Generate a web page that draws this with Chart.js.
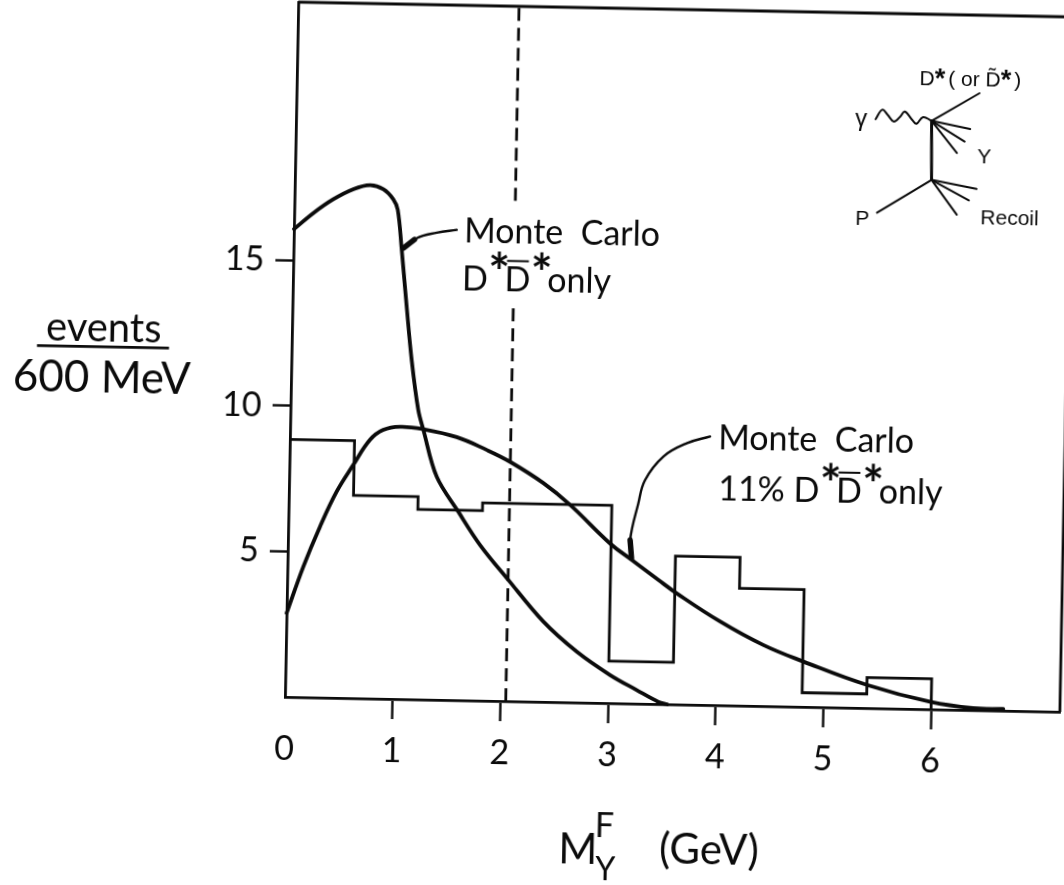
<!DOCTYPE html>
<html>
<head>
<meta charset="utf-8">
<title>Events vs M_Y^F</title>
<script src="https://cdn.jsdelivr.net/npm/chart.js@4"></script>
<style>
html,body{margin:0;background:#fff;overflow:hidden}
/* the scanned figure sits about one degree off square */
#plot{transform:rotate(1.1deg);transform-origin:285px 697px}
</style>
</head>
<body>
<canvas id="plot" width="1064" height="885"></canvas>
<script>
// tick labels
const xTicks = [0,1,2,3,4,5,6];
const yTicks = [5,10,15];

// histogram, 600 MeV bins (last edge closes the final bin)
const binEdges = [0,0.6,1.2,1.8,2.4,3.0,3.6,4.2,4.8,5.4,6.0];
const binCounts = [8.85,6.97,6.53,6.8,6.8,1.45,5.1,4.03,0.49,1.05,0];

// Monte Carlo D*D*bar only
const pureX = [0,0.176,0.36,0.544,0.698,0.822,0.917,0.96,1.004,1.06,1.116,1.186,1.237,1.369,1.576,1.784,2.052,2.385,2.70,3.014,3.264,3.467,3.55];
const pureY = [16.08,16.64,17.13,17.49,17.64,17.51,17.17,16.81,15.44,13.49,11.66,9.95,9.27,7.67,6.48,5.35,4.17,2.76,1.75,0.97,0.47,0.08,0];

// Monte Carlo 11% D*D*bar
const mixX = [0,0.147,0.294,0.443,0.593,0.743,0.865,1.02,1.237,1.548,1.829,2.047,2.36,2.612,2.99,3.194,3.445,3.618,4.026,4.432,4.806,5.40,5.99,6.39,6.67];
const mixY = [2.88,4.49,5.87,7.09,8.02,8.89,9.24,9.36,9.29,9.04,8.62,8.23,7.52,6.79,5.49,4.94,4.27,3.82,2.88,2.10,1.56,0.80,0.26,0.07,0.06];

// dashed cut, broken where the label sits
const cutX = [2.05,2.05,2.05,2.05,2.05];
const cutY = [0,13.6,null,17.2,23.9];

// leader lines to the labels
const leadAX = [1.004,1.141,1.326,1.511];
const leadAY = [15.41,15.85,16.05,16.16];
const headAX = [1.02,1.12];
const headAY = [15.5,15.8];
const leadBX = [3.90,3.684,3.47,3.304,3.246,3.176,3.194];
const leadBY = [9.23,8.98,8.51,7.69,6.89,5.62,4.94];
const headBX = [3.176,3.192];
const headBY = [5.62,5.0];

// inset diagram
const propX = [5.90,5.91];
const propY = [20.22,18.19];
const dstarX = [5.90,6.34];
const dstarY = [20.22,21.20];
const ray1X = [5.90,6.26], ray1Y = [20.22,19.96];
const ray2X = [5.90,6.21], ray2Y = [20.22,19.53];
const ray3X = [5.90,6.14], ray3Y = [20.22,19.13];
const protonX = [5.41,5.91], protonY = [17.03,18.19];
const ray4X = [5.91,6.33], ray4Y = [18.19,17.91];
const ray5X = [5.91,6.26], ray5Y = [18.19,17.51];
const ray6X = [5.91,6.15], ray6Y = [18.19,17.01];
const photonX = [5.38,5.44,5.49,5.55,5.61,5.65,5.72,5.76,5.82,5.90];
const photonY = [20.24,20.57,20.40,20.17,20.35,20.52,20.24,20.11,20.34,20.22];

const INK = '#0b0b0b';
const BIG = 'Lato';
const SMALL = '"Liberation Sans"';

function zip(xs,ys){ return xs.map((x,i)=>({x:x,y:ys[i]})); }
function line(xs,ys,width,extra){
    return Object.assign({data:zip(xs,ys),borderColor:INK,borderWidth:width,pointRadius:0,
        fill:false,clip:false,borderCapStyle:'round',borderJoinStyle:'round'},extra||{});
}
function noPadding(s){ s.paddingTop = s.paddingBottom = s.paddingLeft = s.paddingRight = 0; }

// bits of lettering: position in data units, then runs written left to right
const star = {t:'*',bold:true,scale:1.5,rise:0,kern:-5};
const starSmall = {t:'*',bold:true,scale:1.3,rise:-0.1,kern:3};
const labels = [
    {x:1.58,y:15.72,size:34,runs:[{t:'Monte  Carlo'}]},
    {x:1.57,y:14.10,size:34,runs:[{t:'D'},star,{t:'D',bar:true},star,{t:'only'}]},
    {x:3.976,y:8.81,size:34,runs:[{t:'Monte  Carlo'}]},
    {x:3.985,y:7.05,size:34,runs:[{t:'11% D'},star,{t:'D',bar:true},star,{t:'only'}]},
    {x:-1.748,y:12.08,size:40,align:'center',runs:[{t:'events'}]},
    {x:-1.758,y:10.33,size:44,align:'center',runs:[{t:'600 MeV'}]},
    {x:2.565,y:-5.53,size:42,runs:[{t:'M'}]},
    {x:2.90,y:-4.60,size:34,runs:[{t:'F'}]},
    {x:2.91,y:-6.08,size:32,runs:[{t:'Y'}]},
    {x:3.50,y:-5.46,size:42,runs:[{t:'(GeV)'}]},
    {x:5.78,y:21.45,size:21,family:SMALL,runs:[{t:'D'},starSmall,{t:'( or D\u0303'},starSmall,{t:')'}]},
    {x:5.19,y:20.0,size:24,family:SMALL,runs:[{t:'\u03b3'}]},
    {x:6.33,y:18.81,size:21,family:SMALL,runs:[{t:'Y'}]},
    {x:5.21,y:16.60,size:21,family:SMALL,runs:[{t:'P'}]},
    {x:6.37,y:16.71,size:21,family:SMALL,runs:[{t:'Recoil'}]}
];

const lettering = {
    id:'lettering',
    afterDraw(chart){
        const c = chart.ctx, xs = chart.scales.x, ys = chart.scales.y, a = chart.chartArea;
        c.save();
        c.strokeStyle = INK;
        c.lineWidth = 2.8;
        // top and right sides of the frame
        c.beginPath();
        c.moveTo(a.left,a.top); c.lineTo(a.right,a.top); c.lineTo(a.right,a.bottom);
        c.stroke();
        // fraction bar of the y title
        c.beginPath();
        c.moveTo(xs.getPixelForValue(-2.365),ys.getPixelForValue(11.91));
        c.lineTo(xs.getPixelForValue(-1.139),ys.getPixelForValue(11.91));
        c.stroke();

        c.fillStyle = INK;
        c.textBaseline = 'alphabetic';
        labels.forEach(l=>{
            const fam = l.family || BIG;
            const fontOf = r => (r.bold?'bold ':'')+Math.round(l.size*(r.scale||1))+'px '+fam;
            let px = xs.getPixelForValue(l.x);
            const py = ys.getPixelForValue(l.y);
            if(l.align==='center'){
                let w = 0;
                l.runs.forEach(r=>{ c.font = fontOf(r); w += c.measureText(r.t).width; });
                px -= w/2;
            }
            l.runs.forEach(r=>{
                c.font = fontOf(r);
                const w = c.measureText(r.t).width;
                c.fillText(r.t,px,py-(r.rise||0)*l.size);
                if(r.bar){
                    c.lineWidth = 2;
                    c.beginPath();
                    c.moveTo(px+2,py-l.size*0.88);
                    c.lineTo(px+w-2,py-l.size*0.88);
                    c.stroke();
                }
                px += w+(r.kern||0);
            });
        });
        c.restore();
    }
};

new Chart(document.getElementById('plot'),{
    type:'line',
    data:{
        datasets:[
            line(binEdges,binCounts,2.8,{stepped:'before',borderCapStyle:'butt',borderJoinStyle:'miter'}),
            line(pureX,pureY,3.8,{tension:0.35}),
            line(mixX,mixY,3.8,{tension:0.4}),
            line(cutX,cutY,2.8,{borderDash:[13,7],borderCapStyle:'butt'}),
            line(leadAX,leadAY,2.4,{tension:0.4}),
            line(headAX,headAY,5.5),
            line(leadBX,leadBY,2.4,{tension:0.4}),
            line(headBX,headBY,5.5),
            line(propX,propY,3),
            line(dstarX,dstarY,2),
            line(ray1X,ray1Y,2),
            line(ray2X,ray2Y,2),
            line(ray3X,ray3Y,2),
            line(protonX,protonY,2),
            line(ray4X,ray4Y,2),
            line(ray5X,ray5Y,2),
            line(ray6X,ray6Y,2),
            line(photonX,photonY,2,{tension:0.4})
        ]
    },
    options:{
        responsive:false,
        animation:false,
        events:[],
        layout:{padding:{top:2,right:4,left:0,bottom:0}},
        plugins:{legend:{display:false},tooltip:{enabled:false},title:{display:false}},
        scales:{
            x:{
                type:'linear',min:0,max:7.196,
                afterFit(s){ s.height = 188; noPadding(s); },
                afterBuildTicks(s){ s.ticks = xTicks.map(v=>({value:v})); },
                border:{color:INK,width:2.8},
                grid:{drawOnChartArea:false,tickLength:20,tickWidth:2.4,
                    tickColor:ctx=>ctx.tick && ctx.tick.value===0 ? 'rgba(0,0,0,0)' : INK},
                ticks:{color:INK,font:{family:BIG,size:34},padding:12,maxRotation:0,autoSkip:false}
            },
            y:{
                type:'linear',min:0,max:23.88,
                afterFit(s){ s.width = 285; noPadding(s); },
                afterBuildTicks(s){ s.ticks = yTicks.map(v=>({value:v})); },
                border:{color:INK,width:2.8},
                grid:{drawOnChartArea:false,tickLength:18,tickWidth:2.4,tickColor:INK},
                ticks:{color:INK,font:{family:BIG,size:34},padding:11,autoSkip:false}
            }
        }
    },
    plugins:[lettering]
});
</script>
</body>
</html>
